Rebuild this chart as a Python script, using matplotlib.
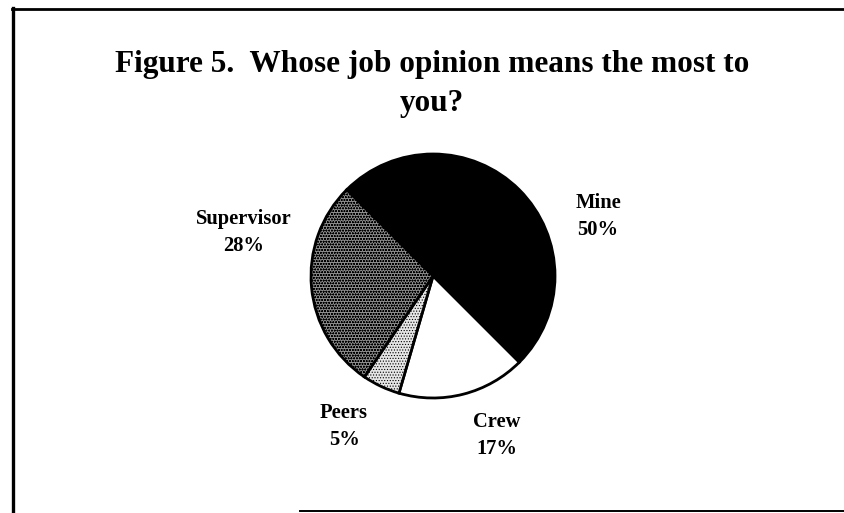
import matplotlib
matplotlib.use("Agg")
import matplotlib.pyplot as plt
from matplotlib.lines import Line2D

# ---- data ----
categories = ["Mine", "Crew", "Peers", "Supervisor"]
values = [50, 17, 5, 28]
title_lines = ["Figure 5.  Whose job opinion means the most to", "you?"]

# ---- styles ----
face_colors = ["#000000", "#ffffff", "#e6e6e6", "#8e8e8e"]
hatches = [None, None, "......", "oooooo"]

W, H = 844, 513
plt.rcParams["hatch.linewidth"] = 0.5
plt.rcParams["font.family"] = ["Liberation Serif", "DejaVu Serif"]

fig = plt.figure(figsize=(W / 100, H / 100), dpi=100)
ax = fig.add_axes([0, 0, 1, 1])

def py(y):  # pixel-from-top to data y
    return H - y

wedges, _ = ax.pie(values, startangle=135, counterclock=False,
                   center=(433, py(276)), radius=122,
                   colors=face_colors,
                   wedgeprops=dict(edgecolor="black", linewidth=2.0))
for w, h in zip(wedges, hatches):
    if h:
        w.set_hatch(h)

ax.set_xlim(0, W)
ax.set_ylim(0, H)
ax.set_aspect("equal")
ax.axis("off")

# labels
label_pos = {"Mine": (598, 203), "Crew": (497, 422),
             "Peers": (344, 413), "Supervisor": (244, 219)}
for cat, v in zip(categories, values):
    x, y = label_pos[cat]
    ax.text(x, py(y), cat, ha="center", va="center", fontsize=14.8,
            fontweight="bold")
    ax.text(x, py(y + 27), f"{v}%", ha="center", va="center", fontsize=14.8,
            fontweight="bold")

# title
ax.text(432, py(72), title_lines[0], ha="center", va="baseline",
        fontsize=22.5, fontweight="bold")
ax.text(432, py(111), title_lines[1], ha="center", va="baseline",
        fontsize=22.5, fontweight="bold")

# frame
fig.add_artist(Line2D([13 / W, 13 / W], [1 - 8 / H, 0], transform=fig.transFigure,
                      color="black", linewidth=2.4))
fig.add_artist(Line2D([12 / W, 1], [1 - 9 / H, 1 - 9 / H], transform=fig.transFigure,
                      color="black", linewidth=2.0))
fig.add_artist(Line2D([300 / W, 1], [1 - 511 / H, 1 - 511 / H], transform=fig.transFigure,
                      color="black", linewidth=1.4))

fig.savefig("out.png", dpi=100)
